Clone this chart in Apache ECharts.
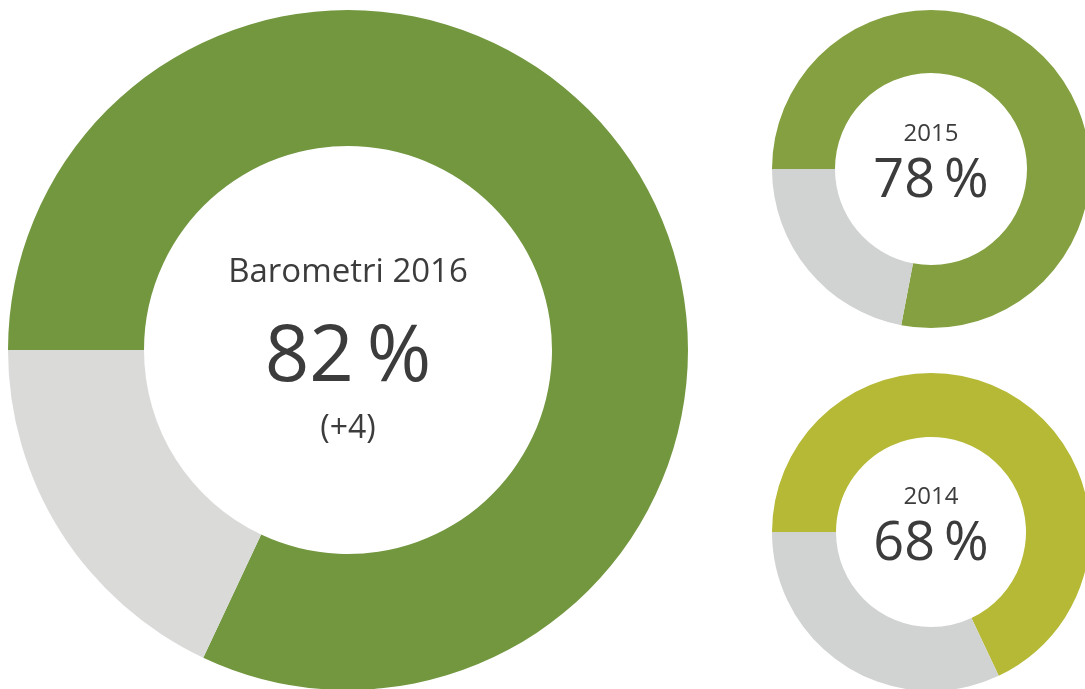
<!DOCTYPE html>
<html>
<head>
<meta charset="utf-8">
<script src="https://cdn.jsdelivr.net/npm/echarts@6/dist/echarts.min.js"></script>
<style>
  html, body { margin: 0; padding: 0; background: #fff; }
  #box { width: 1085px; height: 689px; }
</style>
</head>
<body>
<div id="box"></div>
<script>
// barometri, andel i procent per år
const years = ['Barometri 2016', '2015', '2014'];
const shares = [82, 78, 68];
const changes = ['(+4)', '', ''];
const colors = ['#72973f', '#84a040', '#b5b935'];
const greys = ['#dadad9', '#d1d3d2', '#d1d3d2'];

let myChart = echarts.init(document.getElementById('box'));

// placering av de tre ringarna
const layout = [
  { center: [348, 350], radius: [204, 340] },
  { center: [931, 169], radius: [96, 159] },
  { center: [931, 532], radius: [95, 159] }
];

function centerLabel(i) {
  if (i === 0) {
    return {
      show: true,
      position: 'center',
      offset: [0, -7],
      formatter: '{a|' + years[i] + '}\n{b|' + shares[i] + '\u2009%}\n{c|' + changes[i] + '}',
      rich: {
        a: { fontSize: 33, lineHeight: 94, color: '#3c3c3c', fontFamily: 'Open Sans' },
        b: { fontSize: 78, lineHeight: 78, color: '#3c3c3c', fontFamily: 'Open Sans' },
        c: { fontSize: 32, lineHeight: 62, color: '#3c3c3c', fontFamily: 'Open Sans' }
      }
    };
  }
  return {
    show: true,
    position: 'center',
    offset: [0, -7],
    formatter: '{a|' + years[i] + '}\n{b|' + shares[i] + '\u2009%}',
    rich: {
      a: { fontSize: 24, lineHeight: 40, color: '#3c3c3c', fontFamily: 'Open Sans' },
      b: { fontSize: 54, lineHeight: 56, color: '#3c3c3c', fontFamily: 'Open Sans' }
    }
  };
}

let series = shares.map(function (v, i) {
  return {
    type: 'pie',
    silent: true,
    center: layout[i].center,
    radius: layout[i].radius,
    startAngle: 180,
    clockwise: true,
    avoidLabelOverlap: false,
    emphasis: { disabled: true },
    labelLine: { show: false },
    itemStyle: { borderWidth: 0 },
    data: [
      { value: v, name: years[i], itemStyle: { color: colors[i] }, label: centerLabel(i) },
      { value: 100 - v, name: 'övriga', itemStyle: { color: greys[i] }, label: { show: false } }
    ]
  };
});

let option = {
  animation: false,
  backgroundColor: '#ffffff',
  series: series
};
myChart.setOption(option);
</script>
</body>
</html>
